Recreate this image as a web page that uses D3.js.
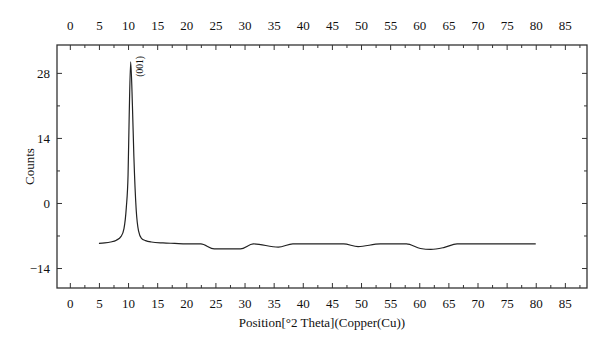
<!DOCTYPE html>
<html>
<head>
<meta charset="utf-8">
<script src="https://cdn.jsdelivr.net/npm/d3@7"></script>
<style>
  body { margin: 0; background: #fff; }
  text { font-family: "Liberation Serif", "DejaVu Serif", serif; fill: #111; }
</style>
</head>
<body>
<script>
// pattern
var theta = [5, 6, 7, 8, 8.8, 9.3, 9.7, 10.0, 10.2, 10.45, 10.75, 11.0, 11.4, 11.8, 12.3, 13, 14, 16, 18, 20,
             22.5, 24.8, 29.3, 31.5, 35.8, 38.3, 47, 49.5, 53.3, 57.8, 60.2, 62, 64.2, 66.5, 80];
var counts = [-8.7, -8.6, -8.4, -8.0, -7.2, -5.5, -1, 6, 19, 30.4, 21, 10, -1.5, -6.0, -7.6, -8.1, -8.4, -8.6, -8.7, -8.8,
              -8.8, -9.9, -9.9, -8.8, -9.5, -8.8, -8.8, -9.4, -8.8, -8.8, -9.8, -10.0, -9.6, -8.8, -8.8];
var xTicks = [0, 5, 10, 15, 20, 25, 30, 35, 40, 45, 50, 55, 60, 65, 70, 75, 80, 85];
var yTicks = [-14, 0, 14, 28];
var peakLabel = "(001)";

var W = 600, H = 346;
var m = {left: 57, right: 13, top: 45, bottom: 58};

var svg = d3.select("body").append("svg")
    .attr("width", W)
    .attr("height", H);

var x = d3.scaleLinear().domain([-2.2, 88.8]).range([m.left, W - m.right]);
var y = d3.scaleLinear().domain([-18.3, 34]).range([H - m.bottom, m.top]);

var xMinor = d3.range(-2.5, 90, 2.5).filter(function(v) { return v > -2.2 && v < 88.8 && v % 5 != 0; });
var yMinor = [-7, 7, 21];

function styleAxis(g) {
  g.select(".domain").remove();
  g.selectAll("line").attr("stroke", "#333").attr("stroke-width", 1);
  g.selectAll("text").attr("font-size", 13).attr("fill", "#111");
}

// bottom
svg.append("g").attr("transform", "translate(0," + (H - m.bottom) + ")")
  .call(d3.axisBottom(x).tickValues(xTicks).tickSize(-5).tickPadding(11).tickFormat(d3.format("d")))
  .call(styleAxis);
svg.append("g").attr("transform", "translate(0," + (H - m.bottom) + ")")
  .call(d3.axisBottom(x).tickValues(xMinor).tickSize(-3).tickFormat(""))
  .call(styleAxis);
// top
svg.append("g").attr("transform", "translate(0," + m.top + ")")
  .call(d3.axisTop(x).tickValues(xTicks).tickSize(-5).tickPadding(15).tickFormat(d3.format("d")))
  .call(styleAxis);
svg.append("g").attr("transform", "translate(0," + m.top + ")")
  .call(d3.axisTop(x).tickValues(xMinor).tickSize(-3).tickFormat(""))
  .call(styleAxis);
// left
svg.append("g").attr("transform", "translate(" + m.left + ",0)")
  .call(d3.axisLeft(y).tickValues(yTicks).tickSize(-5).tickPadding(7).tickFormat(function(d) { return d < 0 ? "\u2212" + (-d) : d; }))
  .call(styleAxis);
svg.append("g").attr("transform", "translate(" + m.left + ",0)")
  .call(d3.axisLeft(y).tickValues(yMinor).tickSize(-3).tickFormat(""))
  .call(styleAxis);
// right
svg.append("g").attr("transform", "translate(" + (W - m.right) + ",0)")
  .call(d3.axisRight(y).tickValues(yTicks).tickSize(-5).tickFormat(""))
  .call(styleAxis);
svg.append("g").attr("transform", "translate(" + (W - m.right) + ",0)")
  .call(d3.axisRight(y).tickValues(yMinor).tickSize(-3).tickFormat(""))
  .call(styleAxis);

// frame
svg.append("rect")
  .attr("x", m.left).attr("y", m.top)
  .attr("width", W - m.left - m.right).attr("height", H - m.top - m.bottom)
  .attr("fill", "none").attr("stroke", "#333").attr("stroke-width", 1.3);

var pts = theta.map(function(t, i) { return [t, counts[i]]; });
var line = d3.line()
  .curve(d3.curveMonotoneX)
  .x(function(d) { return x(d[0]); })
  .y(function(d) { return y(d[1]); });

svg.append("path")
  .datum(pts)
  .attr("d", line)
  .attr("fill", "none")
  .attr("stroke", "#222")
  .attr("stroke-width", 1.2);

// peak label
svg.append("text")
  .attr("transform", "translate(" + (x(10.45) + 12) + "," + (y(30.4) + 15) + ") rotate(-90)")
  .attr("font-size", 9.5)
  .text(peakLabel);

// axis titles
svg.append("text")
  .attr("x", (m.left + W - m.right) / 2)
  .attr("y", 327)
  .attr("text-anchor", "middle")
  .attr("font-size", 13)
  .text("Position[\u00b02 Theta](Copper(Cu))");

svg.append("text")
  .attr("transform", "translate(34," + ((m.top + H - m.bottom) / 2) + ") rotate(-90)")
  .attr("text-anchor", "middle")
  .attr("font-size", 13)
  .text("Counts");
</script>
</body>
</html>
